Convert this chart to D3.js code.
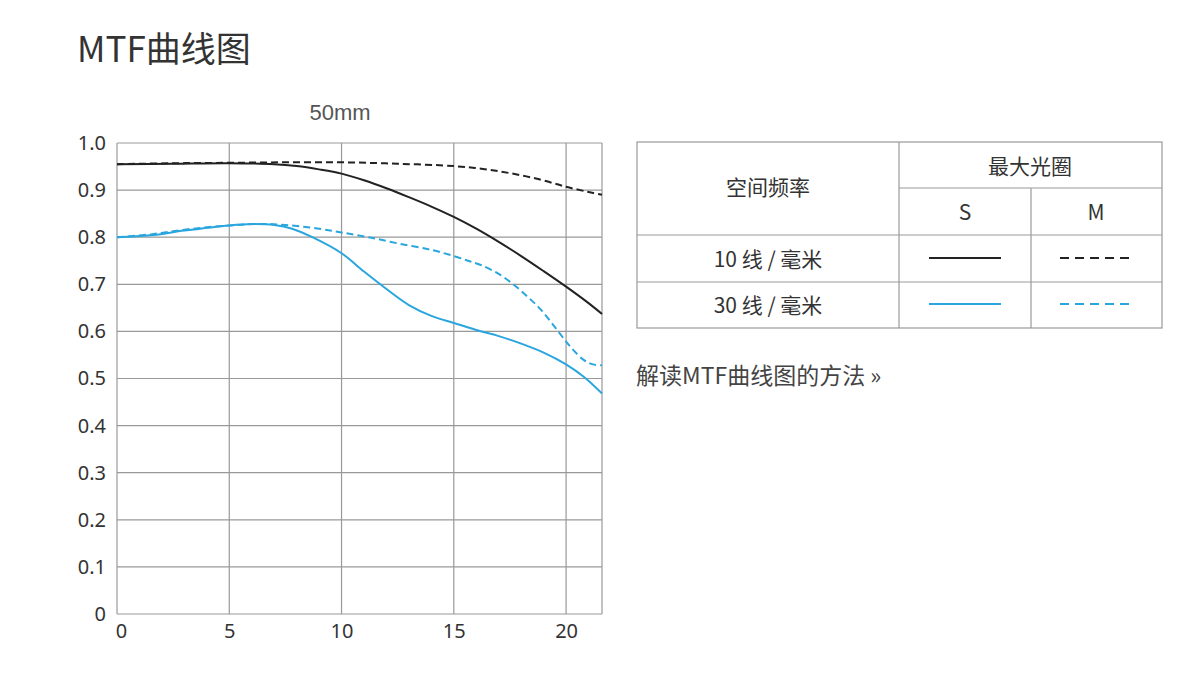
<!DOCTYPE html>
<html><head><meta charset="utf-8">
<script src="https://cdn.jsdelivr.net/npm/d3@7"></script>
<style>
html,body{margin:0;padding:0;background:#fff;}
svg{display:block;font-family:"Noto Sans CJK SC","Noto Sans",sans-serif;}
</style></head>
<body><svg id="c" width="1200" height="675"></svg>
<script>
const xTicks = [0, 5, 10, 15, 20];
const yTicks = [0, 0.1, 0.2, 0.3, 0.4, 0.5, 0.6, 0.7, 0.8, 0.9, 1.0];
const yTickLabels = ["0","0.1","0.2","0.3","0.4","0.5","0.6","0.7","0.8","0.9","1.0"];

const s10 = [[0,0.955],[2.5,0.956],[5,0.957],[7,0.955],[8,0.951],[9,0.944],[10,0.935],[11,0.921],[12,0.904],[13,0.885],[14,0.865],[15,0.843],[16,0.818],[17,0.790],[18,0.760],[19,0.728],[20,0.695],[21,0.660],[21.6,0.637]];
const m10 = [[0,0.955],[2.5,0.957],[5,0.958],[7.5,0.959],[10,0.959],[12.5,0.956],[15,0.951],[16.3,0.945],[17.5,0.936],[18.8,0.923],[20,0.907],[21,0.896],[21.6,0.890]];
const s30 = [[0,0.800],[1.5,0.804],[3,0.814],[5,0.825],[6,0.828],[7,0.826],[7.8,0.818],[8.7,0.800],[10,0.766],[11,0.727],[12,0.690],[13,0.656],[14,0.633],[15,0.618],[16,0.603],[17,0.590],[18,0.574],[19,0.555],[20,0.530],[20.8,0.503],[21.6,0.468]];
const m30 = [[0,0.800],[1.5,0.806],[3,0.816],[5,0.825],[6.5,0.828],[7.5,0.826],[9,0.818],[10,0.810],[11.2,0.800],[12.5,0.787],[14,0.773],[15,0.760],[15.7,0.749],[16.2,0.741],[17,0.722],[17.7,0.698],[18.3,0.673],[18.9,0.645],[19.6,0.603],[20.2,0.567],[20.8,0.539],[21.2,0.530],[21.6,0.528]];

const series = [
  {name:"10 S", data:s10, color:"#222", dash:null},
  {name:"10 M", data:m10, color:"#222", dash:"7,4"},
  {name:"30 S", data:s30, color:"#2aa6df", dash:null},
  {name:"30 M", data:m30, color:"#2aa6df", dash:"7,4"}
];

const svg = d3.select("#c");
const L = 117, R = 602, T = 143, B = 614;
const x = d3.scaleLinear().domain([0, 21.6]).range([L, R]);
const y = d3.scaleLinear().domain([0, 1]).range([B, T]);

// title
svg.append("text").attr("x",77).attr("y",62).attr("font-size",35).attr("fill","#333").text("MTF曲线图");
svg.append("text").attr("x",340).attr("y",120).attr("text-anchor","middle").attr("font-size",22).attr("fill","#555")
  .attr("font-family","Liberation Sans, Arial, sans-serif").text("50mm");

// grid
const g = svg.append("g");
g.selectAll(".hg").data(yTicks).join("line")
  .attr("x1",L).attr("x2",R).attr("y1",d=>y(d)).attr("y2",d=>y(d))
  .attr("stroke","#999").attr("stroke-width",1.2);
g.selectAll(".vg").data(xTicks).join("line")
  .attr("y1",T).attr("y2",B).attr("x1",d=>x(d)).attr("x2",d=>x(d))
  .attr("stroke","#999").attr("stroke-width",1.2);
g.append("line").attr("x1",R).attr("x2",R).attr("y1",T).attr("y2",B).attr("stroke","#999").attr("stroke-width",1.2);

// axis labels
const yAxis = d3.axisLeft(y).tickValues(yTicks).tickFormat((d,i)=>yTickLabels[i]).tickSize(0).tickPadding(11);
const ya = svg.append("g").attr("transform",`translate(${L},0)`).call(yAxis);
ya.select(".domain").remove();
ya.selectAll("text").attr("font-size",20).attr("fill","#333").attr("font-family","Noto Sans, sans-serif");
const xAxis = d3.axisBottom(x).tickValues(xTicks).tickFormat(d3.format("d")).tickSize(0).tickPadding(10);
const xa = svg.append("g").attr("transform",`translate(0,${B})`).call(xAxis);
xa.select(".domain").remove();
xa.selectAll("text").attr("font-size",20).attr("fill","#333").attr("font-family","Noto Sans, sans-serif");
xa.selectAll(".tick").filter(d=>d===0).select("text").attr("dx",4);

// curves
const line = d3.line().x(d=>x(d[0])).y(d=>y(d[1])).curve(d3.curveCatmullRom.alpha(0.5));
svg.selectAll(".s").data(series).join("path")
  .attr("d",d=>line(d.data)).attr("fill","none").attr("stroke",d=>d.color)
  .attr("stroke-width",2).attr("stroke-dasharray",d=>d.dash);

// legend table
const tb = svg.append("g");
const tc = "#999";
const TL=637, TR=1162, TT=142, TB=328, C1=899, C2=1031, R1=188, R2=235, R3=282;
tb.append("rect").attr("x",TL).attr("y",TT).attr("width",TR-TL).attr("height",TB-TT).attr("fill","none").attr("stroke",tc).attr("stroke-width",1.2);
[[C1,TT,C1,TB],[C2,R1,C2,TB],[C1,R1,TR,R1],[TL,R2,TR,R2],[TL,R3,TR,R3]].forEach(l=>{
  tb.append("line").attr("x1",l[0]).attr("y1",l[1]).attr("x2",l[2]).attr("y2",l[3]).attr("stroke",tc).attr("stroke-width",1.2);
});
const tx = (t,xx,yy)=>tb.append("text").attr("x",xx).attr("y",yy).attr("text-anchor","middle").attr("dominant-baseline","central")
  .attr("font-size",21).attr("fill","#333").text(t);
tx("空间频率",768,186);
tx("最大光圈",1030,165);
tx("S",965,211);
tx("M",1096,211);
tx("10 线 / 毫米",768,258);
tx("30 线 / 毫米",768,304);
const legRows = [[series[0],965,258],[series[1],1096,258],[series[2],965,304],[series[3],1096,304]];
legRows.forEach(r=>{
  tb.append("line").attr("x1",r[1]-36).attr("x2",r[1]+36).attr("y1",r[2]).attr("y2",r[2])
    .attr("stroke",r[0].color).attr("stroke-width",2).attr("stroke-dasharray",r[0].dash ? "9,6" : null);
});

svg.append("text").attr("x",636).attr("y",384).attr("font-size",23).attr("fill","#444").text("解读MTF曲线图的方法 »");
</script></body></html>
